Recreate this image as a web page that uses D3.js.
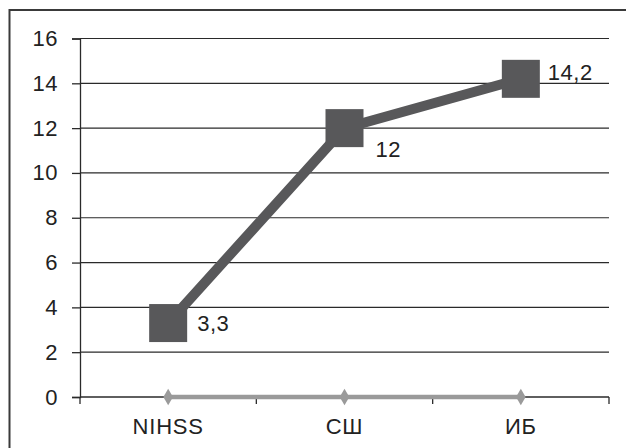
<!DOCTYPE html>
<html>
<head>
<meta charset="utf-8">
<script src="https://cdn.jsdelivr.net/npm/d3@7"></script>
<style>
  html, body { margin: 0; padding: 0; background: #fff; }
  svg { display: block; font-family: Arial, "Liberation Sans", sans-serif; }
</style>
</head>
<body>
<svg id="chart" width="626" height="448"></svg>
<script>
// Scale scores per assessment
const categories = ["NIHSS", "СШ", "ИБ"];
const mainValues = [3.3, 12, 14.2];
const baseValues = [0, 0, 0];
const valueLabels = ["3,3", "12", "14,2"];
const yTicks = [0, 2, 4, 6, 8, 10, 12, 14, 16];

const svg = d3.select("#chart");
const W = 626, H = 448;
const plot = { left: 80, right: 609, top: 38.5, bottom: 397 };
const FS = 22;

// outer frame (runs off the right and bottom edges)
svg.append("rect")
  .attr("x", 9.5).attr("y", 10)
  .attr("width", W + 10).attr("height", H + 10)
  .attr("fill", "none").attr("stroke", "#3a3a3a").attr("stroke-width", 2);

const x = d3.scaleBand().domain(categories).range([plot.left, plot.right]).padding(0);
const y = d3.scaleLinear().domain([0, 16]).range([plot.bottom, plot.top]);
const cx = d => x(d) + x.bandwidth() / 2;

// horizontal gridlines
svg.append("g").selectAll("line").data(yTicks.filter(t => t > 0)).join("line")
  .attr("x1", plot.left).attr("x2", plot.right)
  .attr("y1", d => y(d)).attr("y2", d => y(d))
  .attr("stroke", "#2a2a2a").attr("stroke-width", 1.2);

// y axis
const yAxis = svg.append("g").attr("transform", `translate(${plot.left},0)`)
  .call(d3.axisLeft(y).tickValues(yTicks).tickSize(8).tickPadding(14).tickFormat(d3.format("d")));
yAxis.select(".domain").attr("stroke", "#2a2a2a").attr("stroke-width", 1.3);
yAxis.selectAll(".tick line").attr("stroke", "#2a2a2a").attr("stroke-width", 1.3);
yAxis.selectAll(".tick text").attr("font-size", FS).attr("fill", "#222")
  .attr("letter-spacing", 0.5)
  .attr("font-family", "Arial, 'Liberation Sans', sans-serif");

// x axis with ticks at band boundaries
const xg = svg.append("g");
xg.append("line").attr("x1", plot.left).attr("x2", plot.right)
  .attr("y1", plot.bottom).attr("y2", plot.bottom)
  .attr("stroke", "#2a2a2a").attr("stroke-width", 1.3);
const bounds = categories.map(c => x(c)).concat([x(categories[categories.length - 1]) + x.bandwidth()]);
xg.selectAll("line.tk").data(bounds).join("line").attr("class", "tk")
  .attr("x1", d => d).attr("x2", d => d)
  .attr("y1", plot.bottom).attr("y2", plot.bottom + 7)
  .attr("stroke", "#2a2a2a").attr("stroke-width", 1.3);
xg.selectAll("text").data(categories).join("text")
  .attr("x", d => cx(d)).attr("y", 434)
  .attr("text-anchor", "middle").attr("font-size", FS).attr("fill", "#222")
  .attr("letter-spacing", 0.8)
  .text(d => d);

// baseline series
const base = categories.map((c, i) => ({ c, v: baseValues[i] }));
svg.append("path").datum(base)
  .attr("d", d3.line().x(d => cx(d.c)).y(d => y(d.v)))
  .attr("fill", "none").attr("stroke", "#9a9a9a").attr("stroke-width", 4.5);
svg.append("g").selectAll("path").data(base).join("path")
  .attr("transform", d => `translate(${cx(d.c)},${y(d.v)})`)
  .attr("d", d3.symbol(d3.symbolDiamond, 80))
  .attr("fill", "#9a9a9a");

// main series
const main = categories.map((c, i) => ({ c, v: mainValues[i], label: valueLabels[i] }));
svg.append("path").datum(main)
  .attr("d", d3.line().x(d => cx(d.c)).y(d => y(d.v)))
  .attr("fill", "none").attr("stroke", "#58585a").attr("stroke-width", 10);
const side = 38;
svg.append("g").selectAll("rect").data(main).join("rect")
  .attr("x", d => cx(d.c) - side / 2).attr("y", d => y(d.v) - side / 2)
  .attr("width", side).attr("height", side)
  .attr("fill", "#58585a");

// value labels, placed to the right of each marker
const labelDx = [29, 31, 27];
const labelDy = [8, 29, 1];
svg.append("g").selectAll("text").data(main).join("text")
  .attr("x", (d, i) => cx(d.c) + labelDx[i])
  .attr("y", (d, i) => y(d.v) + labelDy[i])
  .attr("font-size", FS).attr("fill", "#222")
  .attr("letter-spacing", 0.5)
  .text(d => d.label);
</script>
</body>
</html>
